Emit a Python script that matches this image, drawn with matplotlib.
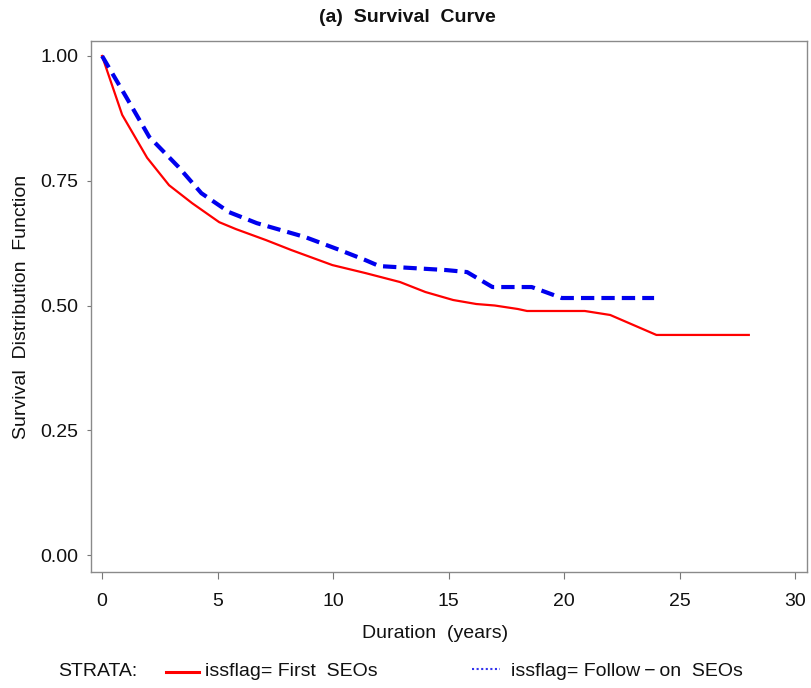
import matplotlib
matplotlib.use("Agg")
import matplotlib.pyplot as plt
from matplotlib.lines import Line2D

plt.rcParams["font.family"] = ["Liberation Sans", "DejaVu Sans"]

# Kaplan-Meier style survival estimates
first_t = [0, 0.87, 1.95, 2.9, 3.9, 5.07, 5.8, 7.1, 8.2, 9.97, 11.4, 12.9, 14.0,
           15.2, 16.2, 17.0, 18.0, 18.4, 20.9, 22.0, 23.0, 24.0, 28.0]
first_s = [1.0, 0.882, 0.796, 0.741, 0.705, 0.667, 0.653, 0.631, 0.611, 0.581,
           0.565, 0.547, 0.527, 0.511, 0.503, 0.500, 0.493, 0.489, 0.489, 0.481,
           0.461, 0.441, 0.441]

follow_t = [0, 1.04, 2.04, 3.3, 4.3, 5.5, 6.7, 8.8, 10.3, 11.4, 12.0, 14.9, 15.8,
            16.9, 18.6, 19.2, 19.9, 23.9]
follow_s = [1.0, 0.918, 0.838, 0.778, 0.725, 0.687, 0.665, 0.637, 0.611, 0.591,
            0.579, 0.571, 0.567, 0.537, 0.537, 0.527, 0.515, 0.515]

x_ticks = [0, 5, 10, 15, 20, 25, 30]
y_ticks = [0.0, 0.25, 0.5, 0.75, 1.0]
y_tick_labels = ["0.00", "0.25", "0.50", "0.75", "1.00"]

W, H = 811, 688
fs = 14

fig = plt.figure(figsize=(W / 100, H / 100), dpi=100)
ax = fig.add_axes([91 / W, 1 - 572 / H, (807 - 91) / W, (572 - 41) / H])

ax.plot(first_t, first_s, color="#ff0000", lw=1.6, solid_joinstyle="round")
ax.plot(follow_t, follow_s, color="#0000ee", lw=3.0, dashes=(3.2, 1.7))

ax.set_xlim(-0.48, 30.52)
ax.set_ylim(-0.034, 1.03)
ax.set_xticks(x_ticks)
ax.set_yticks(y_ticks)
ax.set_yticklabels(y_tick_labels)
for sp in ax.spines.values():
    sp.set_color("#8a8a8a")
    sp.set_linewidth(1.0)
ax.tick_params(axis="both", colors="#777777", labelcolor="#111111", labelsize=fs)
ax.tick_params(axis="x", length=5, pad=10)
ax.tick_params(axis="y", length=3, pad=6)

ax.set_xlabel("Duration  (years)", fontsize=fs, color="#111111")
ax.xaxis.set_label_coords(0.481, -(633 - 572) / (572 - 41), transform=ax.transAxes)
ax.set_ylabel("Survival  Distribution  Function", fontsize=fs, color="#111111")
ax.yaxis.set_label_coords(-(91 - 22) / (807 - 91), 0.5, transform=ax.transAxes)
ax.xaxis.label.set_va("center")
ax.yaxis.label.set_va("center")

fig.text(407 / W, 1 - 17 / H, "(a)  Survival  Curve", ha="center", va="center",
         fontsize=14, fontweight="bold", color="#111111")

# legend row at the bottom
ly = 1 - 672 / H
fig.text(58 / W, ly, "STRATA:", ha="left", va="center", fontsize=fs, color="#111111")
fig.add_artist(Line2D([166 / W, 199 / W], [ly, ly], color="#ff0000", lw=2.2,
                      transform=fig.transFigure))
fig.text(205 / W, ly, "issflag= First  SEOs", ha="left", va="center", fontsize=fs,
         color="#111111")
fig.add_artist(Line2D([472 / W, 500 / W], [ly + 0.004, ly + 0.004], color="#3333ee",
                      lw=1.5, ls=(0, (1, 1.2)), transform=fig.transFigure))
fig.text(511 / W, ly, "issflag= Follow\u2009\u2212\u2009on  SEOs", ha="left",
         va="center", fontsize=fs, color="#111111")

fig.savefig("out.png", dpi=100)
